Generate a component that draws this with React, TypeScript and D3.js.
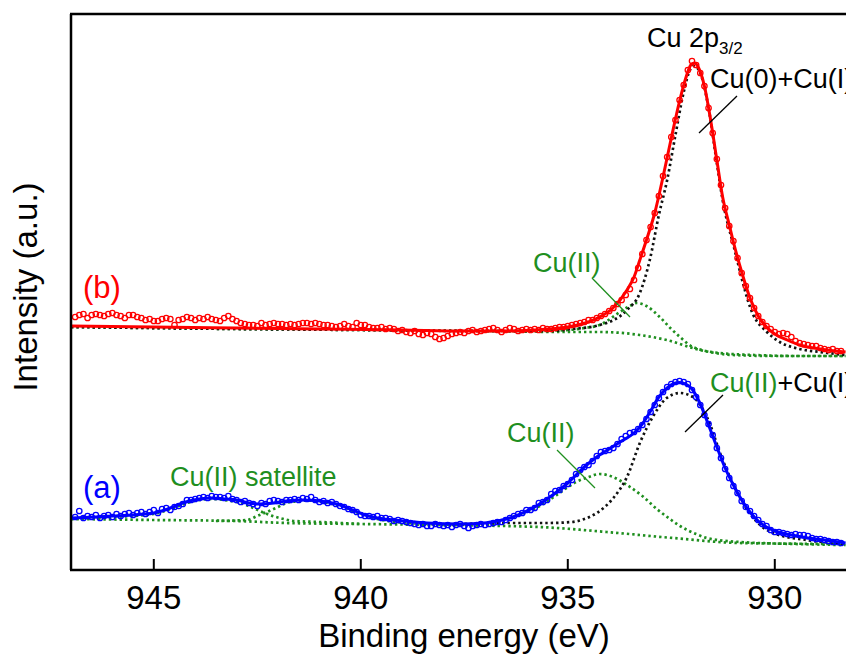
import React from 'react';
import * as d3 from 'd3';

// ---------- axis ----------
const xTicks = [945, 940, 935, 930];
const xDomain = [947, 928];

// ---------- measured points (0.1 eV grid, 946.9 -> 928.4) ----------
const dataEnergies = d3.range(0, 186).map((i) => +(946.9 - i * 0.1).toFixed(1));

const dataB = [
  253, 255, 256, 252, 255, 256, 255, 254, 256, 257,
  255, 254, 252, 255, 255, 253, 252, 250, 251, 249,
  249, 251, 252, 251, 245, 250, 251, 253, 252, 250,
  252, 251, 253, 251, 250, 249, 252, 254, 251, 249,
  247, 246, 245, 245, 244, 247, 245, 246, 247, 246,
  246, 245, 246, 245, 246, 247, 247, 246, 247, 246,
  245, 245, 244, 243, 244, 246, 244, 243, 247, 245,
  245, 243, 242, 242, 243, 241, 242, 241, 239, 240,
  238, 237, 239, 236, 235, 237, 236, 233, 231, 232,
  234, 236, 237, 238, 237, 239, 240, 238, 239, 240,
  241, 242, 240, 238, 240, 242, 241, 239, 240, 241,
  240, 241, 240, 242, 241, 241, 242, 243, 243, 244,
  245, 246, 247, 248, 250, 250, 252, 254, 256, 259,
  262, 266, 270, 275, 281, 290, 302, 316, 330, 343,
  357, 374, 394, 413, 433, 450, 470, 485, 500, 509,
  505, 497, 484, 462, 437, 411, 385, 362, 344, 329,
  312, 297, 284, 272, 262, 254, 248, 244, 241, 238,
  236, 237, 236, 233, 229, 227, 226, 225, 224, 224,
  222, 221, 220, 221, 219, 219,
];

const dataA = [
  53, 59, 52, 54, 53, 55, 52, 54, 55, 53,
  56, 54, 56, 57, 55, 57, 58, 56, 58, 60,
  57, 61, 62, 60, 63, 64, 66, 70, 70, 71,
  72, 73, 72, 74, 73, 73, 72, 74, 71, 70,
  68, 69, 67, 66, 64, 67, 66, 69, 70, 69,
  68, 70, 70, 71, 70, 72, 71, 73, 70, 68,
  69, 67, 68, 66, 64, 63, 61, 60, 58, 55,
  54, 54, 53, 54, 52, 52, 51, 49, 50, 49,
  48, 47, 46, 45, 46, 44, 44, 46, 45, 44,
  45, 43, 45, 46, 44, 42, 44, 45, 46, 45,
  46, 47, 48, 48, 50, 52, 54, 56, 57, 60,
  60, 62, 67, 68, 70, 76, 79, 80, 84, 86,
  90, 96, 100, 103, 105, 109, 114, 118, 119, 120,
  122, 126, 131, 134, 137, 138, 141, 145, 151, 158,
  165, 172, 178, 183, 186, 188, 189, 188, 186, 180,
  173, 165, 155, 146, 135, 122, 112, 101, 92, 84,
  77, 69, 63, 59, 54, 50, 46, 44, 40, 38,
  38, 37, 36, 35, 36, 35, 35, 34, 32, 31,
  31, 30, 29, 28, 28, 27,
];

// ---------- fitted curves: spectrum (b) ----------
const fitBE = [947, 945, 943, 941, 939, 937.5, 936.5, 935.85, 935.0, 934.5, 934.23, 933.91, 933.57, 933.4, 933.26, 933.1, 932.9, 932.7, 932.5, 932.3, 932.15, 932.03, 931.95, 931.85, 931.7, 931.55, 931.4, 931.26, 931.1, 931.0, 930.8, 930.6, 930.4, 930.2, 930.0, 929.7, 929.4, 928.9, 928.29];
const fitBV = [244, 243, 242, 241, 240, 239, 239, 240, 243, 248, 253, 262, 280, 293, 310, 330, 357, 393, 432, 469, 492, 505, 507, 503, 484, 450, 410, 373, 345, 328, 298, 272, 254, 243, 236, 230, 225, 221, 218];

const mainBE = [947, 943, 940, 937, 935.5, 934.9, 934.23, 933.57, 933.26, 933.02, 932.8, 932.6, 932.4, 932.2, 932.05, 931.95, 931.8, 931.6, 931.4, 931.26, 931.0, 930.53, 930.19, 929.88, 929.4, 928.91, 928.29];
const mainBV = [243, 241, 240, 239, 239, 241, 245, 260, 277, 310, 355, 390, 435, 478, 500, 504, 497, 462, 407, 370, 325, 256, 238, 228, 221, 218, 215];

const cu2BE = [937, 936, 935, 934.6, 934.23, 933.74, 933.5, 933.33, 933.1, 932.78, 932.5, 932.29, 931.98, 931.33, 930.5, 929.5, 928.29];
const cu2BV = [239, 239, 240, 242, 245, 258, 264, 267, 264, 253, 241, 233, 223, 217, 215, 214, 214];

const bgBE = [947, 943, 940, 937, 935, 934.23, 933.26, 932.61, 931.81, 931.01, 930, 928.29];
const bgBV = [243, 241, 240, 239, 238, 238, 235, 230, 220, 215, 214, 214];

// ---------- fitted curves: spectrum (a) ----------
const fitAE = [947, 946, 945, 944.6, 944.23, 943.9, 943.6, 943.3, 943.0, 942.7, 942.44, 942.1, 941.8, 941.4, 941.1, 940.8, 940.5, 940.2, 939.9, 939.6, 939.2, 938.4, 937.6, 937.0, 936.7, 936.4, 936.1, 935.8, 935.4, 935.0, 934.6, 934.3, 934.0, 933.7, 933.4, 933.2, 933.0, 932.8, 932.6, 932.4, 932.3, 932.15, 932.0, 931.8, 931.6, 931.4, 931.2, 931.0, 930.8, 930.6, 930.4, 930.2, 930.0, 929.6, 929.2, 928.8, 928.29];
const fitAV = [52, 54, 57, 62, 68, 71, 72, 71, 70, 67, 66, 67, 69, 70, 69.5, 68, 65, 60, 55, 52, 50, 47, 46, 47, 49, 52, 57, 63, 74, 87, 103, 113, 121, 129, 137, 146, 159, 173, 182, 187, 187.5, 186, 181, 166, 145, 123, 102, 85, 70, 58, 49, 43, 39, 35, 32, 30, 27];

const mainAE = [937.5, 936.5, 935.5, 934.9, 934.6, 934.3, 933.9, 933.57, 933.26, 932.95, 932.61, 932.29, 931.98, 931.64, 931.26, 930.85, 930.43, 930.05, 929.23, 928.29];
const mainAV = [46, 47, 47, 48, 51, 57, 72, 93, 127, 153, 172, 177, 173, 153, 110, 73, 48, 37, 30, 26];

const cu2AE = [938, 937.3, 936.88, 936.47, 935.68, 935.27, 934.8, 934.5, 934.23, 933.91, 933.57, 933.2, 932.85, 932.5, 932.29, 931.9, 931.64, 930.85, 929.5, 928.29];
const cu2AV = [45, 46, 46, 51, 64, 75, 88, 93, 96, 93, 85, 74, 61, 50, 44, 36, 32, 28, 26, 25];

const sat1E = [947, 946, 945, 944.6, 944.2, 943.9, 943.6, 943.3, 943.0, 942.7, 942.44, 942.2, 941.96, 941.6, 941.0, 940.0];
const sat1V = [51, 53, 56, 61, 67, 70, 71, 70, 68, 64, 59, 55, 52, 49, 48, 46];

const sat2E = [943.5, 943.0, 942.75, 942.5, 942.27, 942.0, 941.8, 941.5, 941.3, 941.0, 940.68, 940.4, 940.19, 939.9, 939.6, 939.23, 938.4, 937.5];
const sat2V = [49, 49.5, 50, 54, 58, 63, 67, 69, 69.5, 68.5, 66, 63, 59, 55, 51, 48.5, 46, 45];

const bgAE = [947, 945, 943, 941.8, 940, 938.1, 935.7, 934.06, 932.46, 930.85, 928.29];
const bgAV = [51, 50, 49, 47, 46, 45, 43, 38, 32, 27, 26];

// ---------- style ----------
const RED = '#ff0000';
const BLUE = '#0000ff';
const GREEN = '#1f8f1f';
const FONT = 'Arial, "Liberation Sans", Helvetica, sans-serif';

export default function App() {
  const W = 846;
  const H = 657;
  const left = 71;
  const top = 14;
  const bottom = 570;
  const x = d3.scaleLinear().domain(xDomain).range([left, left + 19 * 41.4]);
  const y = d3.scaleLinear().domain([0, 556]).range([bottom, top]);

  const line = d3
    .line<[number, number]>()
    .x((d) => x(d[0]))
    .y((d) => y(d[1]))
    .curve(d3.curveMonotoneX);

  const zip = (e: number[], v: number[]) => e.map((d, i) => [d, v[i]] as [number, number]);

  const dotted = (e: number[], v: number[], color: string, key: string) => (
    <path
      key={key}
      d={line(zip(e, v)) || ''}
      fill="none"
      stroke={color}
      strokeWidth={2.7}
      strokeDasharray="2.4 3"
    />
  );

  const right = x(928);

  return (
    <svg
      width={W}
      height={H}
      style={{ position: 'absolute', left: 0, top: 0, background: '#fff' }}
      fontFamily={FONT}
    >
      <defs>
        <clipPath id="plot">
          <rect x={left} y={top} width={right - left} height={bottom - top} />
        </clipPath>
      </defs>
      <rect x={0} y={0} width={W} height={H} fill="#fff" />

      <g clipPath="url(#plot)">
        {/* spectrum (b) components */}
        {dotted(bgBE, bgBV, GREEN, 'bgB')}
        {dotted(cu2BE, cu2BV, GREEN, 'cu2B')}
        {dotted(mainBE, mainBV, '#111', 'mainB')}
        {/* spectrum (a) components */}
        {dotted(bgAE, bgAV, GREEN, 'bgA')}
        {dotted(sat1E, sat1V, GREEN, 'sat1')}
        {dotted(sat2E, sat2V, GREEN, 'sat2')}
        {dotted(cu2AE, cu2AV, GREEN, 'cu2A')}
        {dotted(mainAE, mainAV, '#111', 'mainA')}

        {/* data circles */}
        {dataEnergies.map((e, i) => (
          <circle key={'b' + i} cx={x(e)} cy={y(dataB[i])} r={2.7} fill="none" stroke={RED} strokeWidth={1.3} />
        ))}
        {dataEnergies.map((e, i) => (
          <circle key={'a' + i} cx={x(e)} cy={y(dataA[i])} r={2.7} fill="none" stroke={BLUE} strokeWidth={1.3} />
        ))}

        {/* fits */}
        <path d={line(zip(fitBE, fitBV)) || ''} fill="none" stroke={RED} strokeWidth={3} />
        <path d={line(zip(fitAE, fitAV)) || ''} fill="none" stroke={BLUE} strokeWidth={3} />
      </g>

      {/* frame */}
      <line x1={left} y1={top} x2={left} y2={bottom} stroke="#000" strokeWidth={2.5} />
      <line x1={left - 1} y1={top} x2={right} y2={top} stroke="#000" strokeWidth={2.5} />
      <line x1={left - 1} y1={bottom} x2={right} y2={bottom} stroke="#000" strokeWidth={2.5} />
      <line x1={right} y1={top} x2={right} y2={bottom} stroke="#000" strokeWidth={2.5} />

      {/* x ticks */}
      {xTicks.map((t) => (
        <g key={t}>
          <line x1={x(t)} y1={bottom} x2={x(t)} y2={bottom - 11} stroke="#000" strokeWidth={2} />
          <text x={x(t)} y={609} textAnchor="middle" fontSize={33} fill="#000">
            {t}
          </text>
        </g>
      ))}

      <text x={464} y={647} textAnchor="middle" fontSize={33} fill="#000">
        Binding energy (eV)
      </text>
      <text transform="translate(37,287) rotate(-90)" textAnchor="middle" fontSize={33} fill="#000">
        Intensity (a.u.)
      </text>

      {/* labels */}
      <text x={83} y={298} fontSize={31} fill={RED}>(b)</text>
      <text x={83} y={498} fontSize={31} fill={BLUE}>(a)</text>
      <text x={170} y={486} fontSize={27} fill={GREEN}>Cu(II) satellite</text>

      <text x={647} y={47} fontSize={27} fill="#000">
        Cu 2p<tspan fontSize={17} dy={7}>3/2</tspan>
      </text>
      <text x={710} y={88} fontSize={27} fill="#000">Cu(0)+Cu(I)</text>
      <line x1={737} y1={96} x2={699} y2={133} stroke="#000" strokeWidth={1.3} />

      <text x={533} y={272} fontSize={27} fill={GREEN}>Cu(II)</text>
      <line x1={592} y1={278} x2={630} y2={317} stroke={GREEN} strokeWidth={1.3} />

      <text x={507} y={442} fontSize={27} fill={GREEN}>Cu(II)</text>
      <line x1={557} y1={450} x2={595} y2={488} stroke={GREEN} strokeWidth={1.3} />

      <text x={710} y={392} fontSize={27}>
        <tspan fill={GREEN}>Cu(II)</tspan>
        <tspan fill="#000">+Cu(I)</tspan>
      </text>
      <line x1={723} y1={395} x2={685} y2={432} stroke="#000" strokeWidth={1.3} />
    </svg>
  );
}
